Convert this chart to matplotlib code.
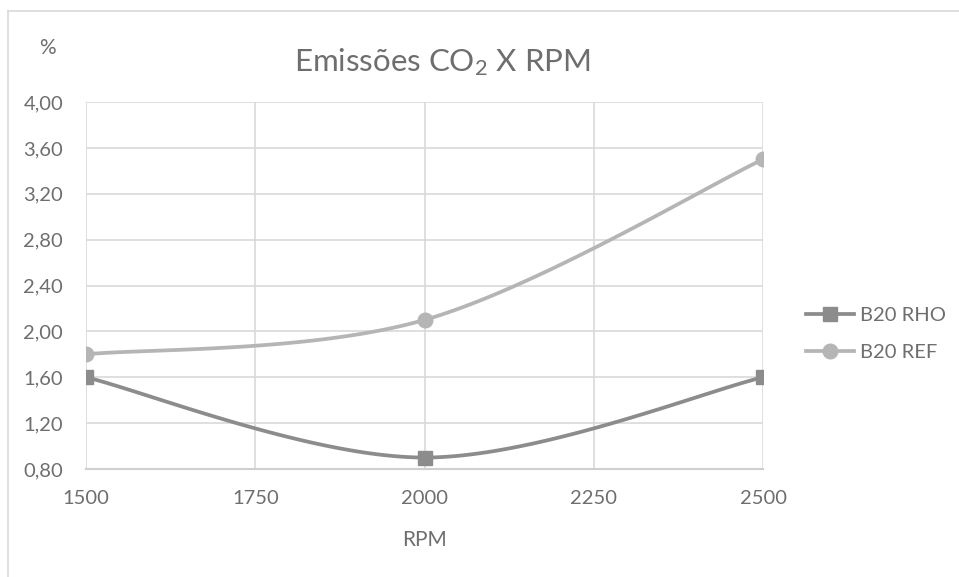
import numpy as np
import matplotlib.pyplot as plt
from matplotlib.lines import Line2D

# ================== DATA ==================

rpm = [1500, 2000, 2500]
b20_rho = [1.60, 0.90, 1.60]
b20_ref = [1.80, 2.10, 3.50]

x_ticks = [1500, 1750, 2000, 2250, 2500]
y_ticks = [0.80, 1.20, 1.60, 2.00, 2.40, 2.80, 3.20, 3.60, 4.00]

TEXT = '#6e6e6e'
GRID = '#d9d9d9'
RHO_COLOR = '#8c8c8c'
REF_COLOR = '#b5b5b5'

plt.rcParams['font.family'] = ['Lato', 'DejaVu Sans']
plt.rcParams['mathtext.fontset'] = 'custom'
plt.rcParams['mathtext.rm'] = 'Lato'
plt.rcParams['mathtext.it'] = 'Lato'


def smooth(xs, ys, n=60):
    # Excel-style smoothed line: cubic Bezier, Catmull-Rom control points
    xs = np.asarray(xs, float)
    ys = np.asarray(ys, float)
    px = np.concatenate([[xs[0]], xs, [xs[-1]]])
    py = np.concatenate([[ys[0]], ys, [ys[-1]]])
    out_x, out_y = [], []
    t = np.linspace(0, 1, n)
    for i in range(1, len(px) - 2):
        p0 = np.array([px[i], py[i]])
        p3 = np.array([px[i + 1], py[i + 1]])
        c1 = p0 + (p3 - np.array([px[i - 1], py[i - 1]])) / 6
        c2 = p3 - (np.array([px[i + 2], py[i + 2]]) - p0) / 6
        b = ((1 - t) ** 3)[:, None] * p0 + (3 * (1 - t) ** 2 * t)[:, None] * c1 \
            + (3 * (1 - t) * t ** 2)[:, None] * c2 + (t ** 3)[:, None] * p3
        out_x.extend(b[:, 0])
        out_y.extend(b[:, 1])
    return out_x, out_y


fig = plt.figure(figsize=(9.59, 5.77), dpi=100)
ax = fig.add_axes([86 / 959, 1 - 469 / 577, (763 - 86) / 959, (469 - 102) / 577])

# outer chart border
fig.add_artist(Line2D([8 / 959, 8 / 959], [0, 1 - 11 / 577], transform=fig.transFigure,
                      color='#d9d9d9', lw=1.2))
fig.add_artist(Line2D([8 / 959, 1], [1 - 11 / 577, 1 - 11 / 577], transform=fig.transFigure,
                      color='#d9d9d9', lw=1.2))

sx, sy = smooth(rpm, b20_rho)
ax.plot(sx, sy, color=RHO_COLOR, lw=2.7, zorder=3)
ax.plot(rpm, b20_rho, ls='none', marker='s', ms=10, color=RHO_COLOR, zorder=4)

sx, sy = smooth(rpm, b20_ref)
ax.plot(sx, sy, color=REF_COLOR, lw=2.7, zorder=3)
ax.plot(rpm, b20_ref, ls='none', marker='o', ms=10.5, color=REF_COLOR, zorder=4)

ax.set_xlim(1500, 2500)
ax.set_ylim(0.8, 4.0)
ax.set_xticks(x_ticks)
ax.set_yticks(y_ticks)
ax.set_yticklabels([f'{v:.2f}'.replace('.', ',') for v in y_ticks])
ax.grid(True, color=GRID, lw=1.2)
ax.set_axisbelow(True)
for side in ['top', 'right', 'left']:
    ax.spines[side].set_visible(False)
ax.spines['bottom'].set_color('#cfcfcf')
ax.spines['bottom'].set_linewidth(1.5)
ax.tick_params(length=0, labelsize=14.5, labelcolor=TEXT)
ax.tick_params(axis='x', pad=15)
ax.tick_params(axis='y', pad=16.5)

fig.text(442 / 959, 1 - 62 / 577, r'Emissões CO$_2$ X RPM', ha='center', va='center',
         fontsize=22.5, color=TEXT)
fig.text(47 / 959, 1 - 48 / 577, '%', ha='center', va='center', fontsize=15, color=TEXT)
fig.text(425 / 959, 1 - 540 / 577, 'RPM', ha='center', va='center', fontsize=15, color=TEXT)

handles = [
    Line2D([], [], color=RHO_COLOR, lw=2.7, marker='s', ms=10),
    Line2D([], [], color=REF_COLOR, lw=2.7, marker='o', ms=10.5),
]
fig.legend(handles, ['B20 RHO', 'B20 REF'], loc='center left',
           bbox_to_anchor=(788 / 959, 1 - 334 / 577), frameon=False, fontsize=14.5,
           labelcolor=TEXT, handlelength=2.4, handletextpad=0.3, labelspacing=1.0)

fig.savefig('out.png', dpi=100)
